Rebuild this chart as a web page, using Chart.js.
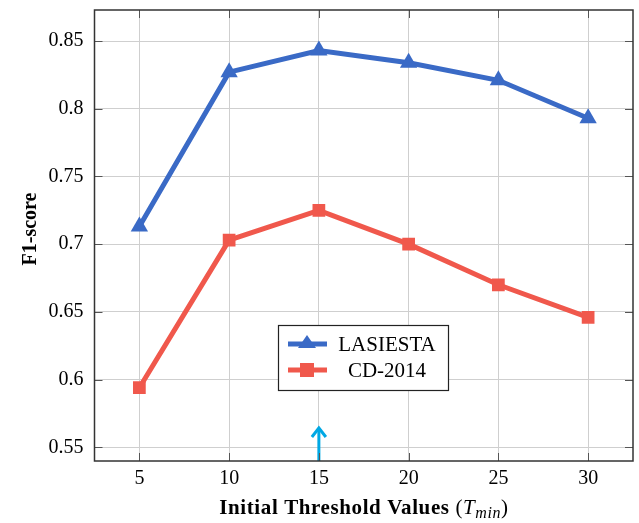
<!DOCTYPE html>
<html>
<head>
<meta charset="utf-8">
<script src="https://cdn.jsdelivr.net/npm/chart.js@4"></script>
<style>
  html, body { margin: 0; padding: 0; background: #fff; }
  #wrap { width: 639px; height: 523px; }
</style>
</head>
<body>
<div id="wrap"><canvas id="chart" width="639" height="523"></canvas></div>
<script>
// data
const thresholds = [5, 10, 15, 20, 25, 30];
const lasiesta = [0.713, 0.827, 0.843, 0.834, 0.821, 0.793];
const cd2014 = [0.594, 0.703, 0.725, 0.700, 0.670, 0.646];
const yTickValues = [0.55, 0.6, 0.65, 0.7, 0.75, 0.8, 0.85];
const xTickValues = [5, 10, 15, 20, 25, 30];
const arrowAt = 15; // marked threshold

const BLUE = 'rgb(58,106,198)';
const RED = 'rgb(240,88,76)';
const CYAN = 'rgb(0,168,228)';
const SERIF = '"Liberation Serif", "DejaVu Serif", serif';

const toPoints = (vals) => thresholds.map((t, i) => ({ x: t, y: vals[i] }));

// frame, inner ticks, arrow, legend and axis titles
const decorations = {
  id: 'decorations',
  afterDatasetsDraw(chart) {
    const { ctx, chartArea: a, scales: { x, y } } = chart;
    ctx.save();

    // arrow at the chosen threshold
    const ax = x.getPixelForValue(arrowAt);
    ctx.strokeStyle = CYAN;
    ctx.lineWidth = 3;
    ctx.lineCap = 'butt';
    ctx.beginPath();
    ctx.moveTo(ax, a.bottom);
    ctx.lineTo(ax, a.bottom - 32);
    ctx.stroke();
    ctx.lineJoin = 'miter';
    ctx.beginPath();
    ctx.moveTo(ax - 7, a.bottom - 24);
    ctx.lineTo(ax, a.bottom - 33);
    ctx.lineTo(ax + 7, a.bottom - 24);
    ctx.stroke();

    // inner tick marks
    ctx.strokeStyle = '#555';
    ctx.lineWidth = 1;
    yTickValues.forEach(v => {
      const py = Math.round(y.getPixelForValue(v)) + 0.5;
      ctx.beginPath();
      ctx.moveTo(a.left, py); ctx.lineTo(a.left + 8, py);
      ctx.moveTo(a.right, py); ctx.lineTo(a.right - 8, py);
      ctx.stroke();
    });
    xTickValues.forEach(v => {
      const px = Math.round(x.getPixelForValue(v)) + 0.5;
      ctx.beginPath();
      ctx.moveTo(px, a.bottom); ctx.lineTo(px, a.bottom - 8);
      ctx.moveTo(px, a.top); ctx.lineTo(px, a.top + 8);
      ctx.stroke();
    });

    // frame
    ctx.strokeStyle = '#333';
    ctx.lineWidth = 1.5;
    ctx.strokeRect(a.left, a.top, a.right - a.left, a.bottom - a.top);

    // legend box
    const lx = 278, ly = 325, lw = 170, lh = 65;
    ctx.fillStyle = '#fff';
    ctx.fillRect(lx, ly, lw, lh);
    ctx.strokeStyle = '#222';
    ctx.lineWidth = 1.2;
    ctx.strokeRect(lx + 0.5, ly + 0.5, lw, lh);
    const entries = [
      { label: 'LASIESTA', color: BLUE, style: 'triangle', cy: ly + 19 },
      { label: 'CD-2014', color: RED, style: 'rect', cy: ly + 45 }
    ];
    ctx.font = '21px ' + SERIF;
    ctx.textBaseline = 'middle';
    ctx.textAlign = 'center';
    entries.forEach(e => {
      ctx.strokeStyle = e.color;
      ctx.fillStyle = e.color;
      ctx.lineWidth = 5;
      ctx.beginPath();
      ctx.moveTo(288, e.cy); ctx.lineTo(327, e.cy);
      ctx.stroke();
      ctx.beginPath();
      if (e.style === 'triangle') {
        ctx.moveTo(307, e.cy - 9); ctx.lineTo(316, e.cy + 4); ctx.lineTo(298, e.cy + 4);
      } else {
        ctx.rect(300, e.cy - 7, 14, 14);
      }
      ctx.fill();
      ctx.fillStyle = '#000';
      ctx.fillText(e.label, 387, e.cy + 1);
    });

    // y title
    ctx.fillStyle = '#000';
    ctx.save();
    ctx.translate(31, 229);
    ctx.rotate(-Math.PI / 2);
    ctx.font = 'bold 20px ' + SERIF;
    ctx.textAlign = 'center';
    ctx.textBaseline = 'middle';
    ctx.fillText('F1-score', 0, 0);
    ctx.restore();

    // x title with subscript
    const parts = [
      { t: 'Initial Threshold Values ', f: 'bold 21px ' + SERIF, dy: 0 },
      { t: '(', f: '21px ' + SERIF, dy: 0 },
      { t: 'T', f: 'italic 21px ' + SERIF, dy: 0 },
      { t: 'min', f: 'italic 16px ' + SERIF, dy: 4 },
      { t: ')', f: '21px ' + SERIF, dy: 0 }
    ];
    ctx.letterSpacing = '0.6px';
    let total = 0;
    parts.forEach(p => { ctx.font = p.f; p.w = ctx.measureText(p.t).width; total += p.w; });
    let cx = 364 - total / 2;
    ctx.textAlign = 'left';
    ctx.textBaseline = 'alphabetic';
    parts.forEach(p => {
      ctx.font = p.f;
      ctx.fillText(p.t, cx, 514 + p.dy);
      cx += p.w;
    });

    ctx.restore();
  }
};

new Chart(document.getElementById('chart'), {
  type: 'line',
  data: {
    datasets: [
      {
        label: 'LASIESTA',
        data: toPoints(lasiesta),
        borderColor: BLUE,
        backgroundColor: BLUE,
        borderWidth: 5,
        pointStyle: 'triangle',
        pointRadius: 10,
        pointBorderWidth: 0,
        tension: 0
      },
      {
        label: 'CD-2014',
        data: toPoints(cd2014),
        borderColor: RED,
        backgroundColor: RED,
        borderWidth: 5,
        pointStyle: 'rect',
        pointRadius: 9,
        pointBorderWidth: 0,
        tension: 0
      }
    ]
  },
  options: {
    responsive: false,
    animation: false,
    layout: { autoPadding: false, padding: { top: 10, right: 6, left: 0, bottom: 0 } },
    plugins: { legend: { display: false }, tooltip: { enabled: false } },
    scales: {
      x: {
        type: 'linear',
        min: 2.5,
        max: 32.5,
        afterBuildTicks: (s) => { s.ticks = xTickValues.map(v => ({ value: v })); },
        afterFit: (s) => { s.height = 62; s.paddingLeft = 0; s.paddingRight = 0; },
        grid: { color: '#cfcfcf', lineWidth: 1, drawTicks: false },
        border: { display: false },
        ticks: { color: '#000', font: { family: SERIF, size: 20 }, padding: 6, maxRotation: 0 }
      },
      y: {
        min: 0.5399,
        max: 0.8729,
        afterBuildTicks: (s) => { s.ticks = yTickValues.map(v => ({ value: v })); },
        afterFit: (s) => { s.width = 94.5; s.paddingTop = 0; s.paddingBottom = 0; },
        grid: { color: '#cfcfcf', lineWidth: 1, drawTicks: false },
        border: { display: false },
        ticks: {
          color: '#000',
          font: { family: SERIF, size: 20 },
          padding: 11,
          callback: (v) => String(Math.round(v * 100) / 100)
        }
      }
    }
  },
  plugins: [decorations]
});
</script>
</body>
</html>
